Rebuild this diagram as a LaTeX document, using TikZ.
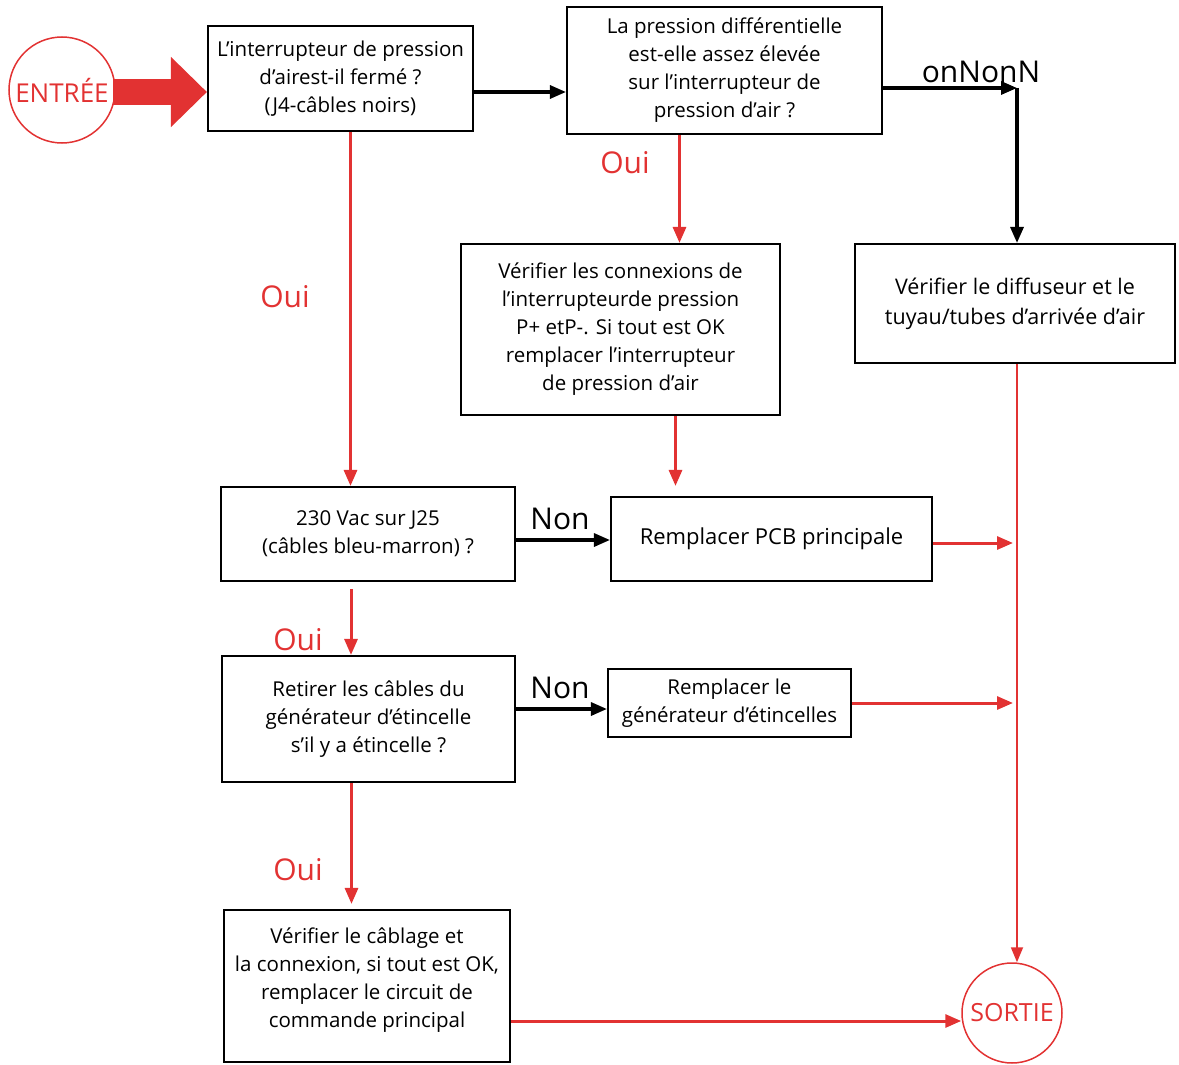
\documentclass[tikz,border=0pt]{standalone}
\usepackage{fontspec}
\setmainfont{Open Sans}
\usetikzlibrary{arrows.meta}
\definecolor{myred}{RGB}{226,50,50}
\tikzset{
  box/.style={draw=black, line width=2.1pt, fill=white, inner sep=0pt, align=center, font=\fontsize{20.5}{28}\selectfont},
  redarr/.style={draw=myred, line width=3pt, -{Triangle[length=16pt,width=13pt]}},
  redline/.style={draw=myred, line width=1.8pt},
  blkarr/.style={draw=black, line width=3.2pt, -{Triangle[length=16pt,width=13pt]}},
  redlbl/.style={text=myred, font=\fontsize{30}{32}\selectfont, inner sep=0pt},
  blklbl/.style={text=black, font=\fontsize{30}{32}\selectfont, inner sep=0pt},
  term/.style={circle, draw=myred, line width=1.5pt, text=myred, inner sep=0pt}
}
\begin{document}
\begin{tikzpicture}[x=1pt,y=-1pt]
\useasboundingbox (0,0) rectangle (1179,1065);
% terminals
\node[term, minimum size=106pt, font=\fontsize{26}{28}\selectfont] (in) at (62,90) {ENTRÉE};
\node[term, minimum size=100pt, font=\fontsize{25}{27}\selectfont] (out) at (1012,1013) {SORTIE};
% boxes
\node[box, minimum width=265pt, minimum height=105pt] (b1) at (340.5,78.5) {L’interrupteur de pression\\ d’airest-il fermé ?\\ (J4-câbles noirs)};
\node[box, minimum width=315pt, minimum height=127pt] (b2) at (724.5,70.5) {La pression différentielle\\ est-elle assez élevée\\ sur l’interrupteur de\\ pression d’air ?};
\node[box, minimum width=320pt, minimum height=119pt, font=\fontsize{21.5}{30}\selectfont] (b3) at (1015,303.5) {Vérifier le diffuseur et le\\ tuyau/tubes d’arrivée d’air};
\node[box, minimum width=319pt, minimum height=171pt] (b4) at (620.5,329.5) {Vérifier les connexions de\\ l'interrupteurde pression\\ P+ etP-. Si tout est OK\\ remplacer l’interrupteur\\ de pression d’air};
\node[box, minimum width=321pt, minimum height=84pt, font=\fontsize{22}{28}\selectfont] (b5) at (771.5,539) {Remplacer PCB principale};
\node[box, minimum width=294pt, minimum height=94pt] (b6) at (368,534) {230 Vac sur J25\\ (câbles bleu-marron) ?};
\node[box, minimum width=293pt, minimum height=126pt] (b7) at (368.5,719) {Retirer les câbles du\\ générateur d’étincelle\\ s’il y a étincelle ?};
\node[box, minimum width=243pt, minimum height=68pt] (b8) at (729.5,703) {Remplacer le\\ générateur d’étincelles};
\node[box, minimum width=286pt, minimum height=152pt] (b9) at (367,986) {};
\node[font=\fontsize{20.5}{28}\selectfont, align=center, inner sep=0pt] (t9) at (367,980) {Vérifier le câblage et\\ la connexion, si tout est OK,\\ remplacer le circuit de\\ commande principal};
% big entry arrow
\path (in.east) coordinate (bigs);
\draw[myred, line width=26pt, -{Triangle[length=36pt,width=68pt]}] ([xshift=-3pt,yshift=-2pt]bigs) -- ([yshift=-2pt]b1.west |- bigs);
% coordinates
\coordinate (nn) at (1017,88);
\coordinate (j1) at (1013,543);
\coordinate (j2) at (1013,703);
% black connectors
\draw[blkarr] ([yshift=-13.5pt]b1.east) -- ([yshift=-13.5pt]b1.east -| b2.west);
\draw[blkarr] (nn -| b2.east) -- (nn);
\draw[blkarr] (nn) -- (nn |- b3.north);
\draw[blkarr] ([yshift=-6pt]b6.east) -- ([yshift=-6pt]b6.east -| b5.west);
\draw[blkarr] ([yshift=10pt]b7.east) -- ([yshift=10pt]b7.east -| b8.west);
% red connectors
\draw[redarr] ([xshift=-45pt]b2.south) -- ([xshift=-45pt]b2.south |- b4.north);
\draw[redarr] ([xshift=55pt]b4.south) -- ([xshift=55pt,yshift=10pt]b4.south |- b5.north);
\draw[redarr] ([xshift=10pt]b1.south) -- ([xshift=10pt]b1.south |- b6.north);
\draw[redarr] ([xshift=-17pt,yshift=-7pt]b6.south) -- ([xshift=-17pt]b6.south |- b7.north);
\draw[redarr] ([xshift=-17pt]b7.south) -- ([xshift=-17pt,yshift=5pt]b7.south |- b9.north);
\draw[redarr] (b5.east |- j1) -- (j1);
\draw[redarr] (b8.east) -- (j2);
\draw[redline, -{Triangle[length=15pt,width=12pt]}] ([xshift=2pt]b3.south) -- ([xshift=2pt]b3.south |- out.north);
\draw[redarr] ([yshift=-35pt]b9.east) -- ([yshift=-35pt]b9.east -| out.west);
% labels
\node[redlbl] (o1) at (625,163) {Oui};
\node[redlbl] (o2) at (285,297) {Oui};
\node[redlbl] (o3) at (298,640) {Oui};
\node[redlbl] (o4) at (298,870) {Oui};
\node[blklbl] (n1) at (560,519) {Non};
\node[blklbl] (n2) at (560,688) {Non};
\node[blklbl] (n3) at (981,72) {onNonN};
\end{tikzpicture}
\end{document}
